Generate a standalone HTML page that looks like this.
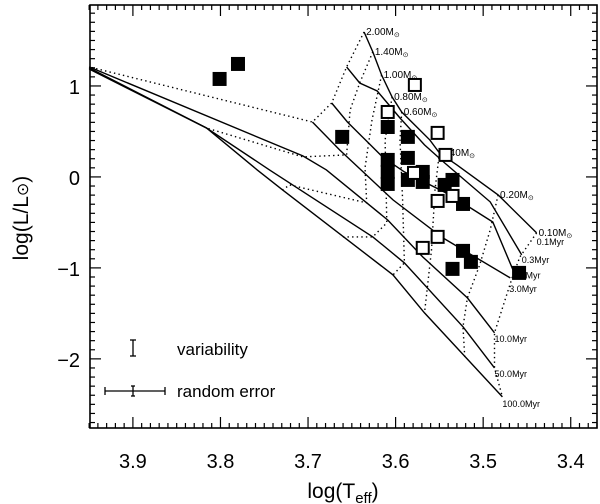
<!DOCTYPE html>
<html><head><meta charset="utf-8"><style>
html,body{margin:0;padding:0;background:#fff;}
svg{display:block;font-family:"Liberation Sans",sans-serif;}
</style></head><body>
<svg id="chart" width="600" height="504" viewBox="0 0 600 504" xmlns="http://www.w3.org/2000/svg">
<rect x="0" y="0" width="600" height="504" fill="#fff"/>
<g id="tracks"></g>
<g id="isos"></g>
<g id="stars"></g>
<g id="axes"></g>
<g id="legend">
  <line x1="133" y1="340" x2="133" y2="356" stroke="#000" stroke-width="1.3"/>
  <line x1="130" y1="340" x2="136" y2="340" stroke="#000" stroke-width="1.3"/>
  <line x1="130" y1="356" x2="136" y2="356" stroke="#000" stroke-width="1.3"/>
  <text x="177" y="355" font-size="17">variability</text>
  <line x1="105" y1="391" x2="165" y2="391" stroke="#000" stroke-width="1.3"/>
  <line x1="105" y1="387" x2="105" y2="395" stroke="#000" stroke-width="1.3"/>
  <line x1="165" y1="387" x2="165" y2="395" stroke="#000" stroke-width="1.3"/>
  <line x1="133" y1="386" x2="133" y2="396" stroke="#000" stroke-width="1.3"/>
  <line x1="131" y1="386" x2="135" y2="386" stroke="#000" stroke-width="1.3"/>
  <line x1="131" y1="396" x2="135" y2="396" stroke="#000" stroke-width="1.3"/>
  <text x="177" y="397" font-size="17">random error</text>
</g>
<text x="343" y="498" font-size="21" text-anchor="middle">log(T<tspan font-size="15" dy="5">eff</tspan><tspan dy="-5">)</tspan></text>
<text transform="translate(28,218) rotate(-90)" font-size="21" text-anchor="middle">log(L/L<tspan font-size="16">⊙</tspan>)</text>
</svg>
<script>
// axis ranges
const xMin = 3.949, xMax = 3.370, yMin = -2.76, yMax = 1.89;
const plotL = 90, plotR = 597, plotT = 5, plotB = 428;
const xTicks = [3.9, 3.8, 3.7, 3.6, 3.5, 3.4];
const xTickLabels = ["3.9", "3.8", "3.7", "3.6", "3.5", "3.4"];
const yTicks = [1, 0, -1, -2];
const yTickLabels = ["1", "0", "\u22121", "\u22122"];

// isochrones [logT, logL]
const isoNames = ["0.1Myr", "0.3Myr", "1.0Myr", "3.0Myr", "10.0Myr", "50.0Myr", "100.0Myr"];
const iso01T = [3.636,3.626,3.616,3.604,3.593,3.561,3.550,3.530,3.483,3.439];
const iso01L = [1.593,1.374,1.121,0.879,0.714,0.407,0.264,0.132,-0.198,-0.615];
const iso03T = [3.656,3.641,3.621,3.595,3.567,3.544,3.492,3.456];
const iso03L = [1.209,1.033,0.945,0.648,0.352,0.154,-0.275,-0.857];
const iso1T = [3.673,3.655,3.615,3.590,3.538,3.489,3.466];
const iso1L = [0.813,0.604,0.220,0.055,-0.198,-0.495,-1.020];
const iso3T = [3.695,3.664,3.603,3.546,3.469];
const iso3L = [0.604,0.297,-0.253,-0.670,-1.110];
const iso10T = [3.950,3.706,3.679,3.609,3.569,3.518,3.487];
const iso10L = [1.209,0.231,0.077,-0.473,-0.879,-1.330,-1.714];
const iso50T = [3.950,3.816,3.744,3.626,3.590,3.523,3.487];
const iso50L = [1.198,0.538,0.077,-0.659,-0.945,-1.648,-2.099];
const iso100T = [3.950,3.816,3.758,3.729,3.603,3.567,3.478];
const iso100L = [1.187,0.538,0.077,-0.143,-1.077,-1.495,-2.418];

// mass tracks
const massNames = ["2.00M", "1.40M", "1.00M", "0.80M", "0.60M", "0.40M", "0.20M", "0.10M"];
const m20T = [3.636,3.656,3.673,3.695,3.950];
const m20L = [1.593,1.209,0.813,0.604,1.209];
const m14T = [3.626,3.641,3.652,3.656,3.706,3.816];
const m14L = [1.374,1.033,0.736,0.242,0.220,0.538];
const m10T = [3.616,3.627,3.635,3.633,3.721,3.729];
const m10L = [1.121,0.626,0.099,-0.286,-0.088,-0.143];
const m08T = [3.604,3.612,3.610,3.626,3.664];
const m08L = [0.879,0.407,-0.505,-0.659,-0.659];
const m06T = [3.593,3.595,3.592,3.590,3.603];
const m06L = [0.714,0.407,-0.253,-0.945,-1.077];
const m04T = [3.550,3.555,3.559,3.564,3.567];
const m04L = [0.264,-0.143,-0.802,-1.242,-1.495];
const m02T = [3.483,3.492,3.504,3.518,3.523,3.521];
const m02L = [-0.198,-0.582,-0.967,-1.330,-1.648,-1.989];
const m01T = [3.439,3.458,3.467,3.487,3.487,3.478];
const m01L = [-0.615,-0.879,-1.110,-1.714,-2.099,-2.418];

// stars
const filledT = [3.801,3.780,3.661,3.609,3.586,3.586,3.609,3.609,3.609,3.586,3.569,3.569,3.544,3.535,3.523,3.523,3.514,3.535,3.459];
const filledL = [1.077,1.242,0.440,0.549,0.440,0.209,0.187,0.055,-0.077,-0.033,0.055,-0.055,-0.088,-0.033,-0.297,-0.813,-0.934,-1.011,-1.055];
const openT = [3.578,3.609,3.552,3.543,3.579,3.552,3.535,3.552,3.569];
const openL = [1.011,0.714,0.484,0.242,0.044,-0.264,-0.209,-0.659,-0.780];

const NS = "http://www.w3.org/2000/svg";
function X(t){ return plotL + (xMin - t) / (xMin - xMax) * (plotR - plotL); }
function Y(l){ return plotB - (l - yMin) / (yMax - yMin) * (plotB - plotT); }
function mk(tag, attrs, parent){
  const e = document.createElementNS(NS, tag);
  for (const k in attrs) e.setAttribute(k, attrs[k]);
  parent.appendChild(e); return e;
}
function pts(T, L){ return T.map((t,i)=>X(t).toFixed(1)+","+Y(L[i]).toFixed(1)).join(" "); }

const gT = document.getElementById("tracks");
const tracks = [[m20T,m20L],[m14T,m14L],[m10T,m10L],[m08T,m08L],[m06T,m06L],[m04T,m04L],[m02T,m02L],[m01T,m01L]];
tracks.forEach((tr,i)=>{
  const p = mk("polyline",{points:pts(tr[0],tr[1]),fill:"none",stroke:"#000","stroke-width":"1.4","stroke-dasharray":"1.4 3.2"},gT);
  
  
  const t = mk("text",{x:X(tr[0][0])+2,y:Y(tr[1][0])+3,"font-size":"10"},gT);
  t.textContent = massNames[i];
  const s = mk("tspan",{"font-size":"7",dy:"2"},t); s.textContent = "\u2299";
  
  
});

const gI = document.getElementById("isos");
const isos = [[iso01T,iso01L],[iso03T,iso03L],[iso1T,iso1L],[iso3T,iso3L],[iso10T,iso10L],[iso50T,iso50L],[iso100T,iso100L]];
const labOff = [[0,12],[0,8],[0,9],[-1,14],[0,9],[0,9],[0,10]];
isos.forEach((is,i)=>{
  const p = mk("polyline",{points:pts(is[0],is[1]),fill:"none",stroke:"#000","stroke-width":"1.4"},gI);
  
  
  const n = is[0].length-1;
  const t = mk("text",{x:X(is[0][n])+labOff[i][0],y:Y(is[1][n])+labOff[i][1],"font-size":"9"},gI);
  t.textContent = isoNames[i];
  
  
});

const gS = document.getElementById("stars");
filledT.forEach((t,i)=>{
  const r = mk("rect",{x:X(t)-7,y:Y(filledL[i])-7,width:14,height:14,fill:"#000"},gS);
  
  
});
openT.forEach((t,i)=>{
  const r = mk("rect",{x:X(t)-6,y:Y(openL[i])-6,width:12,height:12,fill:"#fff",stroke:"#000","stroke-width":"2"},gS);
  
  
});

const gA = document.getElementById("axes");
const frame = mk("rect",{x:plotL,y:plotT,width:plotR-plotL,height:plotB-plotT,fill:"none",stroke:"#000","stroke-width":"1.6"},gA);


for (let k=0;k<=60;k++){
  const v = 3.95 - k*0.01;
  if (v < xMax) break;
  const major = Math.abs(v*10 - Math.round(v*10)) < 1e-6;
  const len = major ? 11 : 5, x = X(v);
  mk("line",{x1:x,y1:plotB,x2:x,y2:plotB-len,stroke:"#000","stroke-width":"1.2"},gA);
  mk("line",{x1:x,y1:plotT,x2:x,y2:plotT+len,stroke:"#000","stroke-width":"1.2"},gA);
}
for (let k=-27;k<=18;k++){
  const v = k/10;
  const major = k%10===0;
  const len = major ? 11 : 5, y = Y(v);
  mk("line",{x1:plotL,y1:y,x2:plotL+len,y2:y,stroke:"#000","stroke-width":"1.2"},gA);
  mk("line",{x1:plotR,y1:y,x2:plotR-len,y2:y,stroke:"#000","stroke-width":"1.2"},gA);
}
xTicks.forEach((v,i)=>{
  const t = mk("text",{x:X(v),y:468,"font-size":"20","text-anchor":"middle"},gA);
  t.textContent = xTickLabels[i];
  
  
});
yTicks.forEach((v,i)=>{
  const t = mk("text",{x:80,y:Y(v)+8,"font-size":"20","text-anchor":"end"},gA);
  t.textContent = yTickLabels[i];
  
  
});
</script>
</body></html>
